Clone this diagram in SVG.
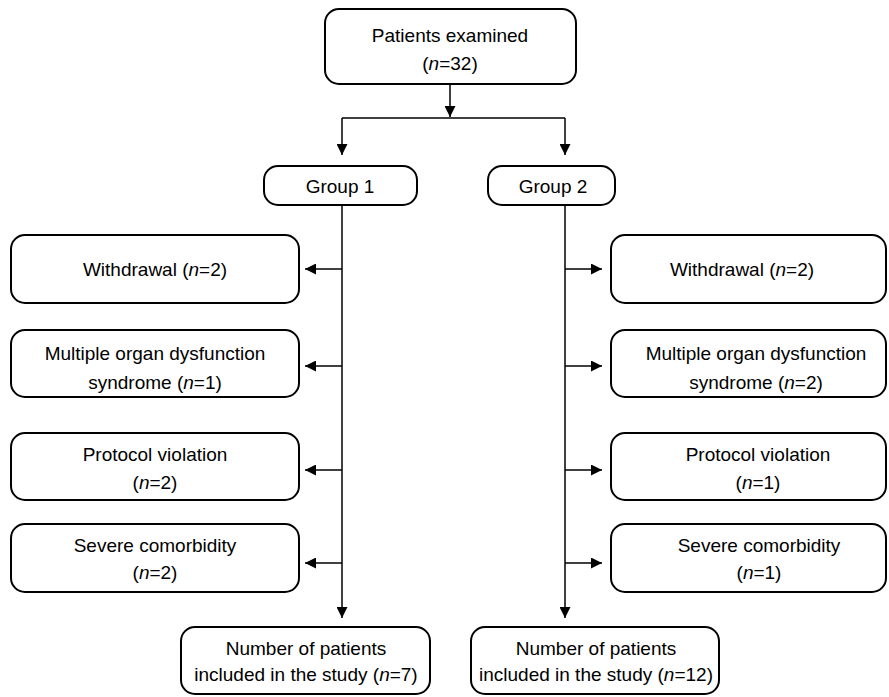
<svg xmlns="http://www.w3.org/2000/svg" width="889" height="697" viewBox="0 0 889 697">
<style>
.box{fill:#fff;stroke:#000;stroke-width:2}
.ln{fill:none;stroke:#000;stroke-width:1.5}
text{font-family:"Liberation Sans","DejaVu Sans",sans-serif;font-size:19px;fill:#000;text-anchor:middle}
.i{font-style:italic}
</style>
<defs>
<marker id="ah" viewBox="0 0 10 10" refX="10" refY="5" markerWidth="13" markerHeight="11" markerUnits="userSpaceOnUse" orient="auto">
<path d="M0,0 L10,5 L0,10 z" fill="#000"/>
</marker>
</defs>
<g id="connectors">
<path class="ln" d="M450,84 V117" marker-end="url(#ah)"/>
<path class="ln" d="M342,118 H565"/>
<path class="ln" d="M342,118 V155" marker-end="url(#ah)"/>
<path class="ln" d="M565,118 V155" marker-end="url(#ah)"/>
<path class="ln" d="M342,205 V618" marker-end="url(#ah)"/>
<path class="ln" d="M565,205 V618" marker-end="url(#ah)"/>
<path class="ln" d="M342,269 H305" marker-end="url(#ah)"/>
<path class="ln" d="M342,366 H305" marker-end="url(#ah)"/>
<path class="ln" d="M342,470 H305" marker-end="url(#ah)"/>
<path class="ln" d="M342,563 H305" marker-end="url(#ah)"/>
<path class="ln" d="M565,269 H602" marker-end="url(#ah)"/>
<path class="ln" d="M565,366 H602" marker-end="url(#ah)"/>
<path class="ln" d="M565,470 H602" marker-end="url(#ah)"/>
<path class="ln" d="M565,563 H602" marker-end="url(#ah)"/>
</g>
<g id="top">
<rect class="box" x="325" y="9" width="251" height="75" rx="14"/>
<text x="450" y="42">Patients examined</text>
<text x="450" y="70">(<tspan class="i">n</tspan>=32)</text>
</g>
<g id="group1">
<rect class="box" x="264" y="166" width="153" height="39" rx="14"/>
<text x="340" y="193">Group 1</text>
</g>
<g id="group2">
<rect class="box" x="488" y="166" width="127" height="39" rx="14"/>
<text x="553" y="193">Group 2</text>
</g>
<g id="l-withdrawal">
<rect class="box" x="11" y="235" width="288" height="68" rx="14"/>
<text x="155" y="276">Withdrawal (<tspan class="i">n</tspan>=2)</text>
</g>
<g id="l-mods">
<rect class="box" x="11" y="330" width="288" height="67" rx="14"/>
<text x="155" y="360">Multiple organ dysfunction</text>
<text x="155" y="389">syndrome (<tspan class="i">n</tspan>=1)</text>
</g>
<g id="l-protocol">
<rect class="box" x="11" y="433" width="288" height="67" rx="14"/>
<text x="155" y="461">Protocol violation</text>
<text x="155" y="489">(<tspan class="i">n</tspan>=2)</text>
</g>
<g id="l-severe">
<rect class="box" x="11" y="524" width="288" height="68" rx="14"/>
<text x="155" y="552">Severe comorbidity</text>
<text x="155" y="579">(<tspan class="i">n</tspan>=2)</text>
</g>
<g id="r-withdrawal">
<rect class="box" x="611" y="235" width="275" height="68" rx="14"/>
<text x="742" y="276">Withdrawal (<tspan class="i">n</tspan>=2)</text>
</g>
<g id="r-mods">
<rect class="box" x="611" y="330" width="275" height="67" rx="14"/>
<text x="756" y="360">Multiple organ dysfunction</text>
<text x="756" y="389">syndrome (<tspan class="i">n</tspan>=2)</text>
</g>
<g id="r-protocol">
<rect class="box" x="611" y="433" width="275" height="67" rx="14"/>
<text x="758" y="461">Protocol violation</text>
<text x="758" y="489">(<tspan class="i">n</tspan>=1)</text>
</g>
<g id="r-severe">
<rect class="box" x="611" y="524" width="275" height="68" rx="14"/>
<text x="759" y="552">Severe comorbidity</text>
<text x="759" y="579">(<tspan class="i">n</tspan>=1)</text>
</g>
<g id="l-included">
<rect class="box" x="181" y="627" width="249" height="67" rx="14"/>
<text x="306" y="655">Number of patients</text>
<text x="306" y="681">included in the study (<tspan class="i">n</tspan>=7)</text>
</g>
<g id="r-included">
<rect class="box" x="471" y="627" width="248" height="67" rx="14"/>
<text x="596" y="655">Number of patients</text>
<text x="596" y="681">included in the study (<tspan class="i">n</tspan>=12)</text>
</g>
</svg>
